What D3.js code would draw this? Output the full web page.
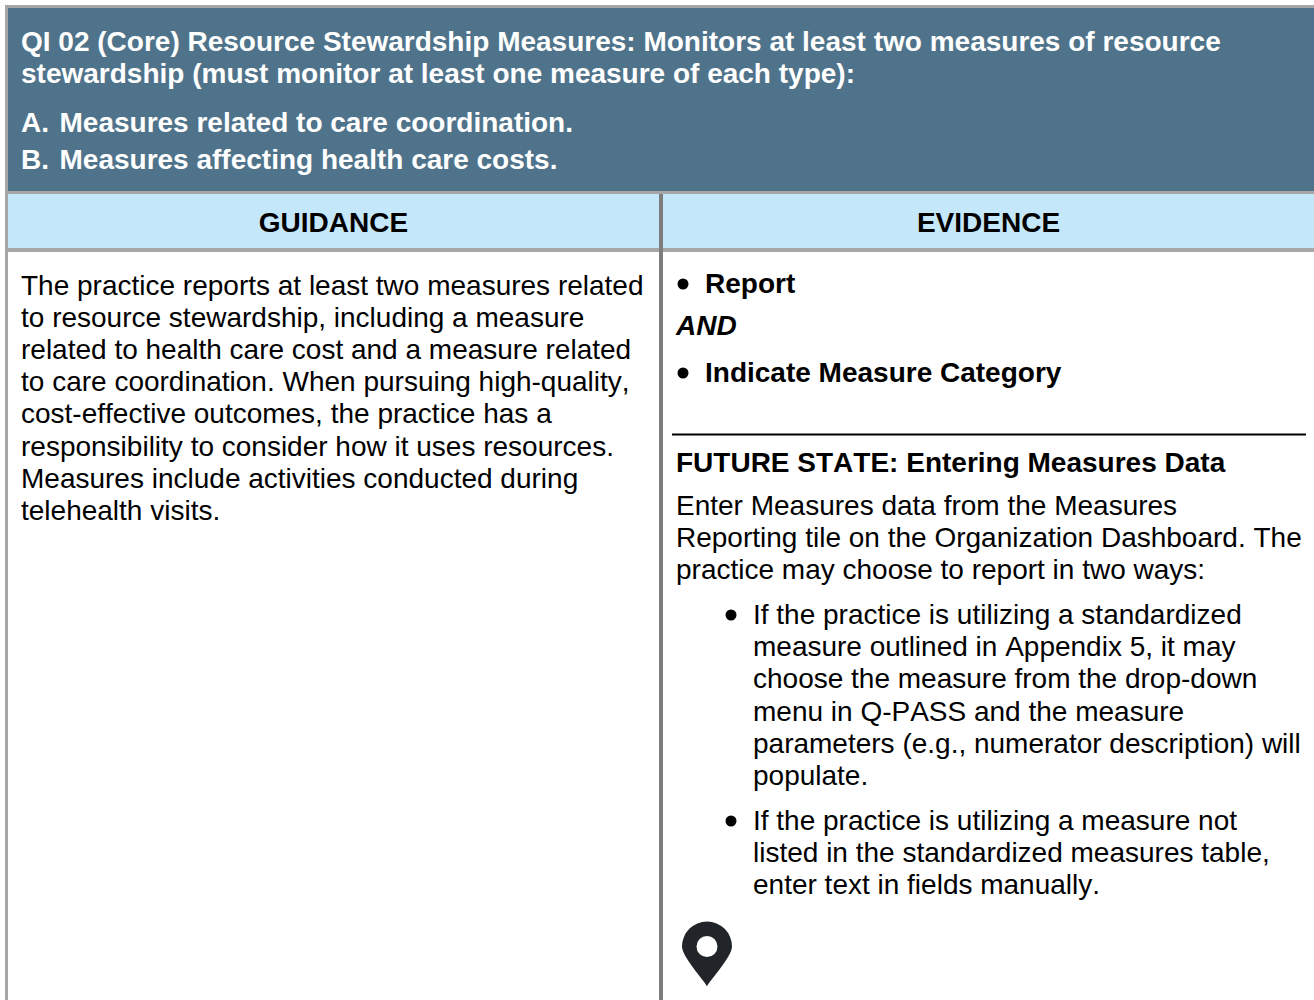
<!DOCTYPE html>
<html>
<head>
<meta charset="utf-8">
<script src="https://cdnjs.cloudflare.com/ajax/libs/d3/7.8.5/d3.min.js"></script>
<style>
  html, body { margin: 0; padding: 0; background: #fff; overflow: hidden; }
  text { font-family: "Liberation Sans", Arial, sans-serif; font-size: 28px; font-kerning: none; fill: #000; }
  .bold { font-weight: bold; }
</style>
</head>
<body>
<div id="chart"></div>
<script>
// Card text
var titleLines = [
  "QI 02 (Core) Resource Stewardship Measures: Monitors at least two measures of resource",
  "stewardship (must monitor at least one measure of each type):"
];
var typeLetters = ["A.", "B."];
var typeLines = ["Measures related to care coordination.", "Measures affecting health care costs."];
var columnHeads = ["GUIDANCE", "EVIDENCE"];
var guidanceLines = [
  "The practice reports at least two measures related",
  "to resource stewardship, including a measure",
  "related to health care cost and a measure related",
  "to care coordination. When pursuing high-quality,",
  "cost-effective outcomes, the practice has a",
  "responsibility to consider how it uses resources.",
  "Measures include activities conducted during",
  "telehealth visits."
];
var evidenceTop = ["Report", "Indicate Measure Category"];
var evidenceJoin = "AND";
var futureHead = "FUTURE STATE: Entering Measures Data";
var futureIntro = [
  "Enter Measures data from the Measures",
  "Reporting tile on the Organization Dashboard. The",
  "practice may choose to report in two ways:"
];
var wayOne = [
  "If the practice is utilizing a standardized",
  "measure outlined in Appendix 5, it may",
  "choose the measure from the drop-down",
  "menu in Q-PASS and the measure",
  "parameters (e.g., numerator description) will",
  "populate."
];
var wayTwo = [
  "If the practice is utilizing a measure not",
  "listed in the standardized measures table,",
  "enter text in fields manually."
];

var svgWidth = 1314;
var svgHeight = 1000;
var lineStep = 32.1;

var svg = d3.select("#chart")
  .append("svg")
  .attr("width", svgWidth)
  .attr("height", svgHeight)
  .style("display", "block");

// Bands and rules
function box(x, y, w, h, color) {
  svg.append("rect")
    .attr("x", x).attr("y", y)
    .attr("width", w).attr("height", h)
    .attr("fill", color);
}

box(8, 8, svgWidth - 8, 183, "#4f738a");
box(8, 194, svgWidth - 8, 54, "#c5e7fa");
box(5, 5, svgWidth - 5, 3, "#a6a6a6");
box(5, 5, 3, svgHeight - 5, "#a6a6a6");
box(8, 191, svgWidth - 8, 3, "#a6a6a6");
box(8, 248, svgWidth - 8, 4, "#a6a6a6");
box(659, 194, 4, svgHeight - 194, "#7f7c7c");
box(672, 433.5, svgWidth - 8 - 672, 2, "#000");

// Draw a block of lines, one baseline after another
function block(lines, x, y0, cls, fill) {
  svg.append("g")
    .selectAll("text")
    .data(lines)
    .enter()
    .append("text")
    .attr("class", cls || null)
    .attr("x", x)
    .attr("y", (d, i) => y0 + i * lineStep)
    .style("fill", fill || null)
    .text(d => d);
}

function bullet(x, y) {
  svg.append("circle").attr("cx", x).attr("cy", y).attr("r", 5.5).attr("fill", "#000");
}

// Header
block(titleLines, 21, 51, "bold", "#fff");
typeLetters.forEach((d, i) => {
  block([d], 21, 132 + i * 37, "bold", "#fff");
  block([typeLines[i]], 59.5, 132 + i * 37, "bold", "#fff");
});

// Column heads
var headX = d3.scalePoint().domain(columnHeads).range([333.5, 988.5]);
svg.selectAll(".head")
  .data(columnHeads)
  .enter()
  .append("text")
  .attr("class", "bold head")
  .attr("x", d => headX(d))
  .attr("y", 232)
  .attr("text-anchor", "middle")
  .text(d => d);

// Guidance column
block(guidanceLines, 21, 295);

// Evidence column
bullet(683, 284);
block([evidenceTop[0]], 705, 293, "bold");
svg.append("text")
  .attr("class", "bold")
  .attr("x", 676)
  .attr("y", 335)
  .style("font-style", "italic")
  .text(evidenceJoin);
bullet(683, 373);
block([evidenceTop[1]], 705, 382, "bold");

block([futureHead], 676, 472, "bold");
block(futureIntro, 676, 515);

bullet(731, 615);
block(wayOne, 753, 624.2);
bullet(731, 821);
block(wayTwo, 753, 830);

// Map pin
svg.append("path")
  .attr("transform", "translate(707,947)")
  .attr("fill", "#212529")
  .attr("fill-rule", "evenodd")
  .attr("d", "M0,39.5 C-3,33 -25,10 -25,-0.5 A25,25 0 1 1 25,-0.5 C25,10 3,33 0,39.5 Z M-10.5,-0.5 A10.5,10.5 0 1 0 10.5,-0.5 A10.5,10.5 0 1 0 -10.5,-0.5 Z");
</script>
</body>
</html>
